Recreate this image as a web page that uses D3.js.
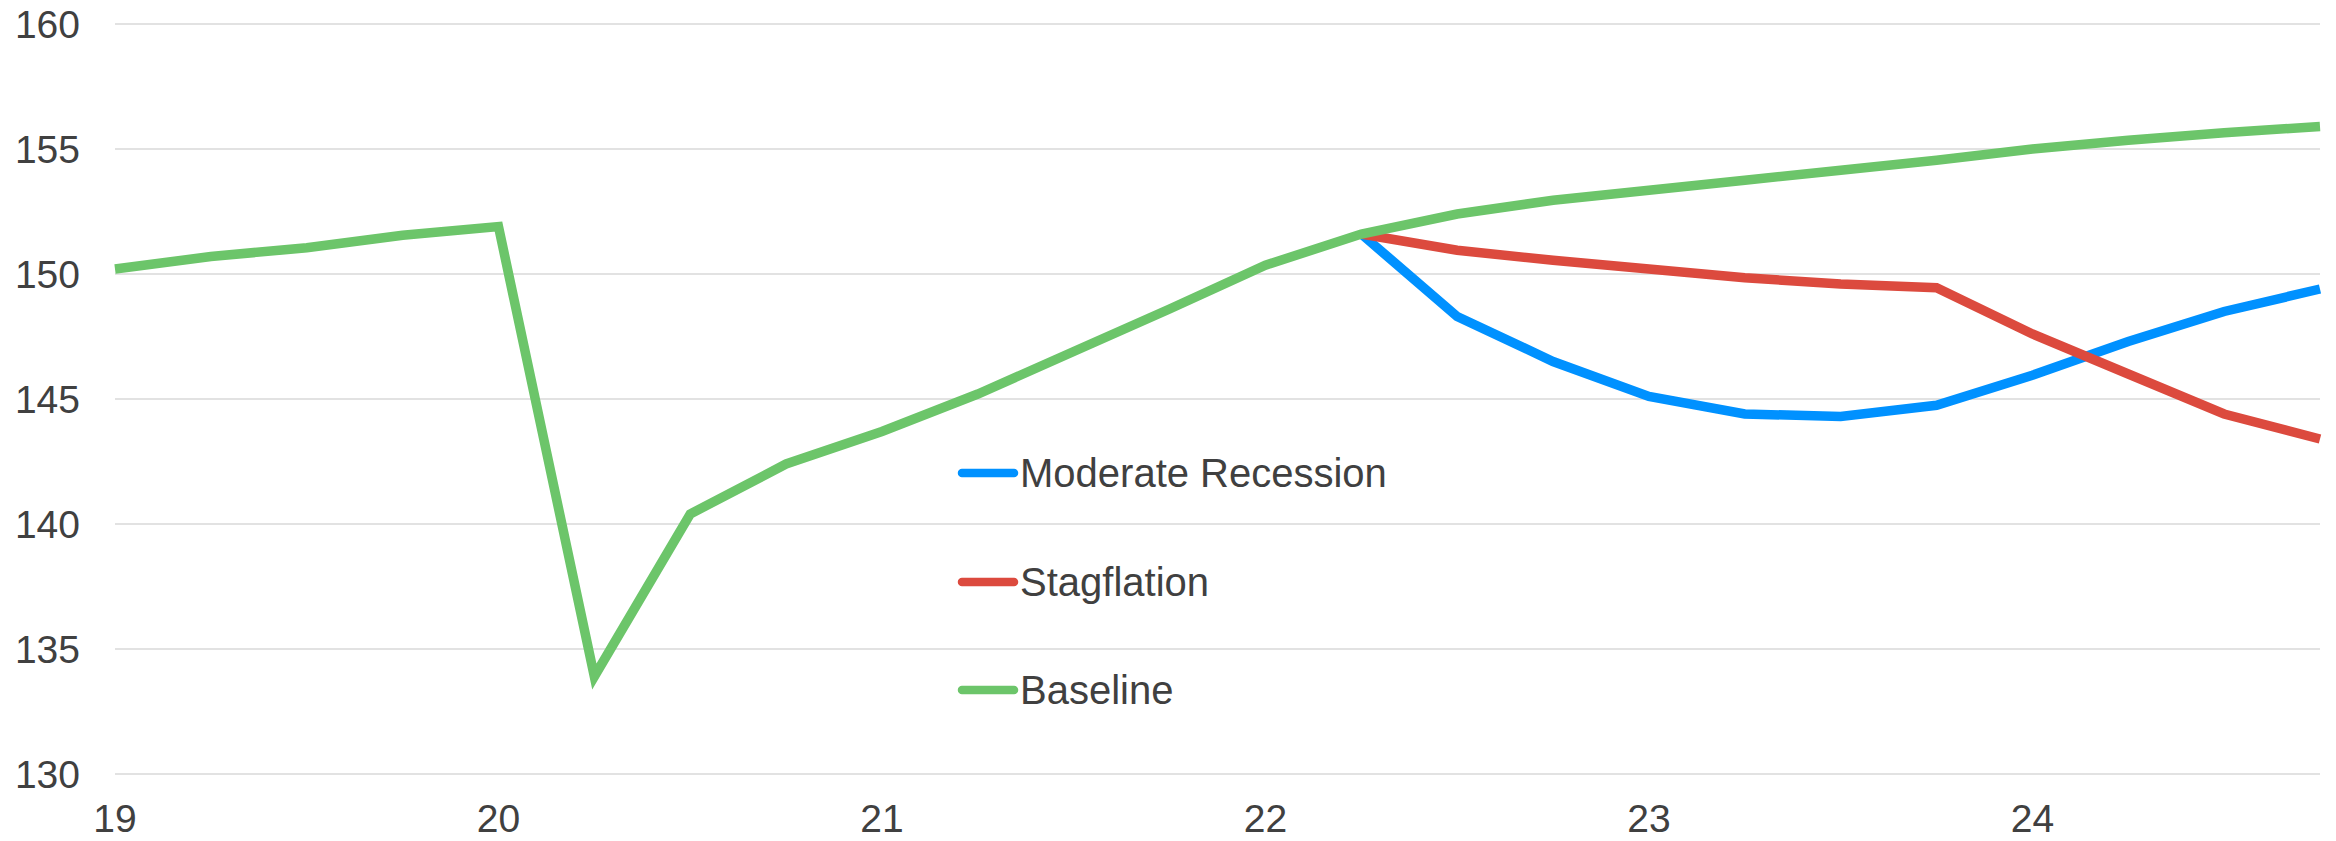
<!DOCTYPE html>
<html><head><meta charset="utf-8">
<script src="https://cdn.jsdelivr.net/npm/d3@7"></script>
<style>html,body{margin:0;padding:0;background:#fff;}svg{display:block;}</style>
</head><body>
<script>
const quarters = [19,19.25,19.5,19.75,20,20.25,20.5,20.75,21,21.25,21.5,21.75,22,22.25,22.5,22.75,23,23.25,23.5,23.75,24,24.25,24.5,24.75];
const baseline = [150.2,150.7,151.05,151.55,151.9,133.9,140.4,142.4,143.7,145.2,146.9,148.6,150.35,151.6,152.4,152.95,153.35,153.75,154.15,154.55,155.0,155.35,155.65,155.9];
const recessionQ = [22.25,22.5,22.75,23,23.25,23.5,23.75,24,24.25,24.5,24.75];
const recession = [151.6,148.3,146.5,145.1,144.4,144.3,144.75,145.95,147.3,148.5,149.4];
const stagflation = [151.6,150.95,150.55,150.2,149.85,149.6,149.45,147.6,146.0,144.4,143.4];
const yTicks = [130,135,140,145,150,155,160];
const xTicks = [19,20,21,22,23,24];
const seriesNames = ["Moderate Recession","Stagflation","Baseline"];
const colors = ["#0091ff","#dc4a3e","#6cc56a"];

const W = 2336, H = 841;
const svg = d3.select("body").append("svg").attr("width", W).attr("height", H);
const x = d3.scaleLinear().domain([19, 24.75]).range([115, 2320]);
const y = d3.scaleLinear().domain([130, 160]).range([774, 24]);
const font = "'Liberation Sans', Arial, sans-serif";

svg.append("g").selectAll("line").data(yTicks).join("line")
  .attr("x1", x(19)).attr("x2", x(24.75))
  .attr("y1", d => y(d)).attr("y2", d => y(d))
  .attr("stroke", "#e2e2e2").attr("stroke-width", 2);

svg.append("g").selectAll("text").data(yTicks).join("text")
  .attr("x", 80).attr("y", d => y(d)).attr("dy", "0.36em")
  .attr("text-anchor", "end").attr("font-family", font).attr("font-size", 39)
  .attr("fill", "#404040").text(d => d);

svg.append("g").selectAll("text").data(xTicks).join("text")
  .attr("x", d => x(d)).attr("y", 832)
  .attr("text-anchor", "middle").attr("font-family", font).attr("font-size", 39)
  .attr("fill", "#404040").text(d => d);

const line = d3.line().x(d => x(d[0])).y(d => y(d[1]));
const data = [
  d3.zip(recessionQ, recession),
  d3.zip(recessionQ, stagflation),
  d3.zip(quarters, baseline)
];
svg.append("g").selectAll("path").data(data).join("path")
  .attr("d", line).attr("fill", "none")
  .attr("stroke", (d, i) => colors[i]).attr("stroke-width", 9.5)
  .attr("stroke-linejoin", "miter");

const legY = [473, 582, 690];
const lg = svg.append("g").selectAll("g").data(seriesNames).join("g")
  .attr("transform", (d, i) => `translate(0,${legY[i]})`);
lg.append("line").attr("x1", 962).attr("x2", 1014).attr("y1", 0).attr("y2", 0)
  .attr("stroke", (d, i) => colors[i]).attr("stroke-width", 8.5).attr("stroke-linecap", "round");
lg.append("text").attr("x", 1020).attr("y", 0).attr("dy", "0.36em")
  .attr("font-family", font).attr("font-size", 40).attr("fill", "#404040").text(d => d);
</script>
</body></html>
